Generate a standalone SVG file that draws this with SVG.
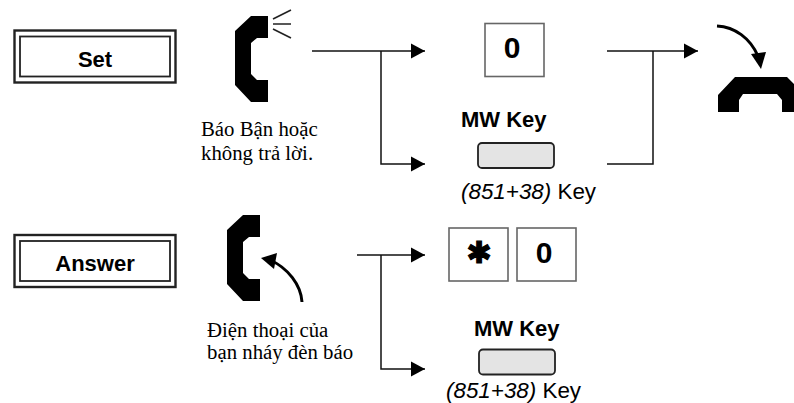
<svg xmlns="http://www.w3.org/2000/svg" width="794" height="403" viewBox="0 0 794 403">
<defs>
<marker id="ah" markerUnits="userSpaceOnUse" markerWidth="16" markerHeight="16" refX="14" refY="8" orient="auto"><path d="M0 0.500L14 8L0 15.500Z" fill="#000"/></marker>
<path id="phone" d="M268 16H251L235 31V85L251 102H268V80H257L251 74V43L257 38H268Z" fill="#000"/>
</defs>
<style>
text{fill:#000}
.a{font-family:"Liberation Sans",Arial,sans-serif}
.b{font-weight:700;font-size:22px}
.s{font-family:"Liberation Serif","Times New Roman",serif;font-size:20.8px}
.o{fill:none;stroke:#222;stroke-width:2.4}
.i{fill:none;stroke:#222;stroke-width:1.8}
.k{fill:#fff;stroke:#666;stroke-width:1.6}
.g{fill:#e4e4e4;stroke:#222;stroke-width:1.8}
.c{fill:none;stroke:#111;stroke-width:1.5}
.cv{fill:none;stroke:#000;stroke-width:3}
.m{font-size:30px;font-weight:700;text-anchor:middle}
.t{font-size:22.4px}
</style>
<g id="connectors">
<path class="c" d="M312 51H425" marker-end="url(#ah)"/>
<path class="c" d="M381 51V164H425" marker-end="url(#ah)"/>
<path class="c" d="M607 51H698" marker-end="url(#ah)"/>
<path class="c" d="M653 51V164H607"/>
<path class="c" d="M357 255H425" marker-end="url(#ah)"/>
<path class="c" d="M381 255V369H425" marker-end="url(#ah)"/>
<path class="cv" d="M717 26C735 27 750 38 758 56"/>
<path d="M761 69L751 54L766 52Z" fill="#000"/>
<path class="cv" d="M302 302C301 285 288 268 270 260"/>
<path d="M261 258L277 253L274 269Z" fill="#000"/>
</g>
<g id="set">
<rect class="o" x="14.500" y="30.500" width="161" height="52"/>
<rect class="i" x="20" y="36.500" width="150" height="40"/>
<text class="a b" x="95" y="67" text-anchor="middle">Set</text>
</g>
<g id="answer">
<rect class="o" x="14.500" y="235" width="161" height="52"/>
<rect class="i" x="20" y="241" width="150" height="40"/>
<text class="a b" x="95" y="271" text-anchor="middle">Answer</text>
</g>
<g id="phone-ringing">
<use href="#phone"/>
<path d="M273 19L291 10M273 24H291M273 29L291 38" fill="none" stroke="#222" stroke-width="1.600"/>
<text class="s" x="201" y="136">Báo Bận hoặc</text>
<text class="s" x="201" y="160">không trả lời.</text>
</g>
<g id="phone-flash">
<use href="#phone" x="-8" y="199"/>
<text class="s" x="207" y="337">Điện thoại của</text>
<text class="s" x="207" y="359">bạn nháy đèn báo</text>
</g>
<g id="key-0-top">
<rect class="k" x="485" y="23.500" width="59" height="53"/>
<text class="a m" x="512" y="58">0</text>
</g>
<g id="mw-key-top">
<text class="a b" x="461" y="127">MW Key</text>
<rect class="g" x="478" y="143" width="76" height="25" rx="4"/>
<text class="a t" x="461" y="199"><tspan font-style="italic">(851+38)</tspan> Key</text>
</g>
<g id="phone-hangup">
<path d="M735 77H787L794 84V112H782V100L777 94H743L739 100V112H718V95Z" fill="#000"/>
</g>
<g id="key-star">
<rect class="k" x="449" y="228" width="59" height="53"/>
<text x="479" y="263" font-family="'DejaVu Sans',sans-serif" font-size="30" text-anchor="middle" stroke="#000" stroke-width="1.200">✱</text>
</g>
<g id="key-0-bottom">
<rect class="k" x="517" y="228" width="59" height="53"/>
<text class="a m" x="544" y="263">0</text>
</g>
<g id="mw-key-bottom">
<text class="a b" x="474" y="336">MW Key</text>
<rect class="g" x="479" y="349.500" width="76" height="25" rx="4"/>
<text class="a t" x="446" y="398"><tspan font-style="italic">(851+38)</tspan> Key</text>
</g>
</svg>
